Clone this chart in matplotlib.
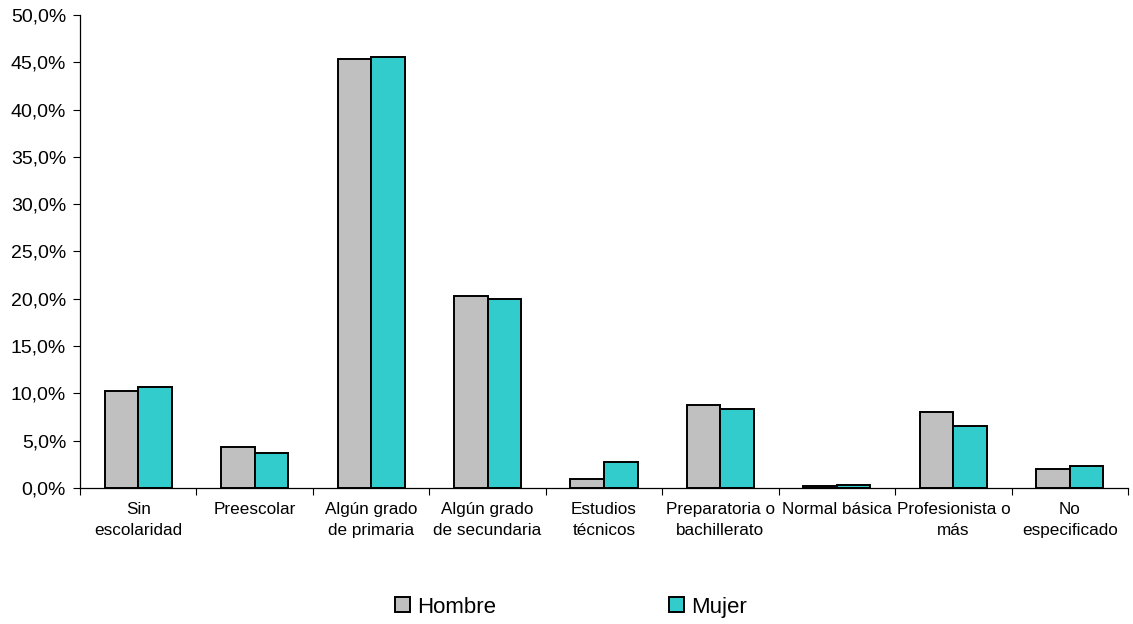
import matplotlib
matplotlib.use("Agg")
import matplotlib.pyplot as plt
import numpy as np
from matplotlib.ticker import FuncFormatter, FixedLocator

plt.rcParams['font.family'] = ['Liberation Sans', 'DejaVu Sans']

categories = ["Sin\nescolaridad", "Preescolar", "Algún grado\nde primaria",
              "Algún grado\nde secundaria", "Estudios\ntécnicos",
              "Preparatoria o\nbachillerato", "Normal básica",
              "Profesionista o\nmás", "No\nespecificado"]
hombre = [10.3, 4.3, 45.3, 20.3, 0.9, 8.8, 0.2, 8.0, 2.0]
mujer = [10.7, 3.7, 45.6, 20.0, 2.7, 8.3, 0.3, 6.6, 2.3]
series_names = ["Hombre", "Mujer"]
series_colors = ["#C0C0C0", "#33CCCC"]

fig = plt.figure(figsize=(11.33, 6.24), dpi=100)
ax = fig.add_axes([80/1133, 1 - 488/624, 1048/1133, 473/624])

x = np.arange(len(categories))
w = 0.288
ax.bar(x - w/2, hombre, w, color=series_colors[0], edgecolor="black",
       linewidth=1.4, label=series_names[0])
ax.bar(x + w/2, mujer, w, color=series_colors[1], edgecolor="black",
       linewidth=1.4, label=series_names[1])

ax.set_xlim(-0.5, len(categories) - 0.5)
ax.set_ylim(0, 50)
ax.set_yticks(np.arange(0, 51, 5))
ax.yaxis.set_major_formatter(FuncFormatter(lambda v, p: f"{v:.1f}%".replace(".", ",")))

ax.set_xticks(x)
ax.set_xticklabels(categories, fontsize=12.3, linespacing=1.5)
ax.xaxis.set_minor_locator(FixedLocator(np.arange(-0.5, len(categories), 1)))
ax.tick_params(axis="x", which="major", length=0, pad=10)
ax.tick_params(axis="x", which="minor", length=5, width=0.8, direction="out")
ax.tick_params(axis="y", length=5, width=0.8, direction="out", labelsize=14, pad=5)

for side in ["top", "right"]:
    ax.spines[side].set_visible(False)
for side in ["left", "bottom"]:
    ax.spines[side].set_linewidth(0.9)

fig.legend(loc="center", bbox_to_anchor=(0.504, 0.027), ncol=2, frameon=False,
           fontsize=16, handlelength=0.68, handleheight=0.68, handletextpad=0.3,
           columnspacing=7.8, borderpad=0)

fig.savefig("out.png", dpi=100)
